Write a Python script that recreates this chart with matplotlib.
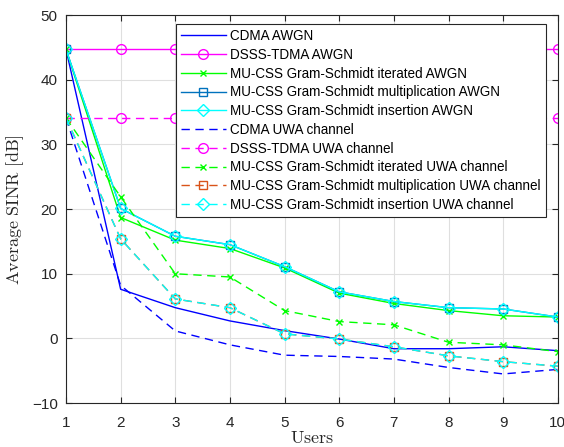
import matplotlib
matplotlib.use("Agg")
import matplotlib.pyplot as plt

plt.rcParams['font.family'] = ['Liberation Sans', 'DejaVu Sans']
plt.rcParams['mathtext.fontset'] = 'cm'

users = [1, 2, 3, 4, 5, 6, 7, 8, 9, 10]

cdma_awgn = [44.7, 7.6, 4.75, 2.7, 1.2, -0.1, -1.6, -1.6, -1.3, -1.9]
dsss_awgn = [44.7] * 10
gs_iter_awgn = [44.7, 18.7, 15.2, 13.9, 10.9, 7.0, 5.4, 4.3, 3.5, 3.3]
gs_mult_awgn = [44.7, 20.1, 15.8, 14.5, 11.1, 7.2, 5.7, 4.75, 4.55, 3.3]
gs_ins_awgn = [44.7, 20.1, 15.8, 14.5, 11.1, 7.2, 5.7, 4.75, 4.55, 3.3]

cdma_uwa = [34.1, 8.2, 1.15, -1.0, -2.6, -2.8, -3.2, -4.5, -5.5, -4.8]
dsss_uwa = [34.1] * 10
gs_iter_uwa = [34.1, 21.9, 10.0, 9.5, 4.3, 2.6, 2.1, -0.6, -1.0, -2.05]
gs_mult_uwa = [34.1, 15.4, 6.1, 4.75, 0.7, -0.1, -1.3, -2.7, -3.6, -4.3]
gs_ins_uwa = [34.1, 15.4, 6.1, 4.75, 0.7, -0.1, -1.3, -2.7, -3.6, -4.3]

labels = [
    "CDMA AWGN",
    "DSSS-TDMA AWGN",
    "MU-CSS Gram-Schmidt iterated AWGN",
    "MU-CSS Gram-Schmidt multiplication AWGN",
    "MU-CSS Gram-Schmidt insertion AWGN",
    "CDMA UWA channel",
    "DSSS-TDMA UWA channel",
    "MU-CSS Gram-Schmidt iterated UWA channel",
    "MU-CSS Gram-Schmidt multiplication UWA channel",
    "MU-CSS Gram-Schmidt insertion UWA channel",
]

fig = plt.figure(figsize=(5.64, 4.47), dpi=100)
ax = fig.add_axes([0.117, 0.0984, 0.872, 0.8676])

ms = 7
dashes = (6, 4)
ax.plot(users, cdma_awgn, '-', color='#0000FF', lw=1, label=labels[0])
ax.plot(users, dsss_awgn, '-', color='#FF00FF', lw=1, marker='o', ms=ms,
        mfc='none', label=labels[1])
ax.plot(users, gs_iter_awgn, '-', color='#00FF00', lw=1, marker='x', ms=5,
        label=labels[2])
ax.plot(users, gs_mult_awgn, '-', color='#0072BD', lw=1, marker='s', ms=6,
        mfc='none', label=labels[3])
ax.plot(users, gs_ins_awgn, '-', color='#00FFFF', lw=1, marker='D', ms=6,
        mfc='none', label=labels[4])
ax.plot(users, cdma_uwa, '--', color='#0000FF', lw=1, dashes=dashes, label=labels[5])
ax.plot(users, dsss_uwa, '--', color='#FF00FF', lw=1, dashes=dashes, marker='o',
        ms=ms, mfc='none', label=labels[6])
ax.plot(users, gs_iter_uwa, '--', color='#00FF00', lw=1, dashes=dashes, marker='x',
        ms=5, label=labels[7])
ax.plot(users, gs_mult_uwa, '--', color='#D95319', lw=1, dashes=dashes, marker='s',
        ms=6, mfc='none', label=labels[8])
ax.plot(users, gs_ins_uwa, '--', color='#00FFFF', lw=1, dashes=dashes, marker='D',
        ms=6, mfc='none', label=labels[9])

ax.set_xlim(1, 10)
ax.set_ylim(-10, 50)
ax.set_xticks(range(1, 11))
ax.set_yticks(range(-10, 51, 10))
ax.grid(True, color='#DFDFDF', lw=0.8)
ax.set_axisbelow(True)
for s in ax.spines.values():
    s.set_color('#262626')
    s.set_linewidth(0.8)
ax.tick_params(direction='in', top=True, right=True, length=4, labelsize=11,
               colors='#262626')
ax.tick_params(axis='y', pad=6)
ax.tick_params(axis='x', pad=9)

ax.set_xlabel(r'$\mathrm{Users}$', fontsize=13, color='#262626', labelpad=0)
ax.set_ylabel(r'$\mathrm{Average\ SINR\ [dB]}$', fontsize=13, color='#262626',
              labelpad=4)

leg = ax.legend(loc='upper right', bbox_to_anchor=(0.9756, 0.978),
                borderaxespad=0, fontsize=9.75,
                handlelength=3.3, handletextpad=0.3, borderpad=0.4,
                labelspacing=0.35, fancybox=False, framealpha=1,
                edgecolor='#262626')
leg.get_frame().set_linewidth(0.8)

fig.savefig('out.png', dpi=100)
